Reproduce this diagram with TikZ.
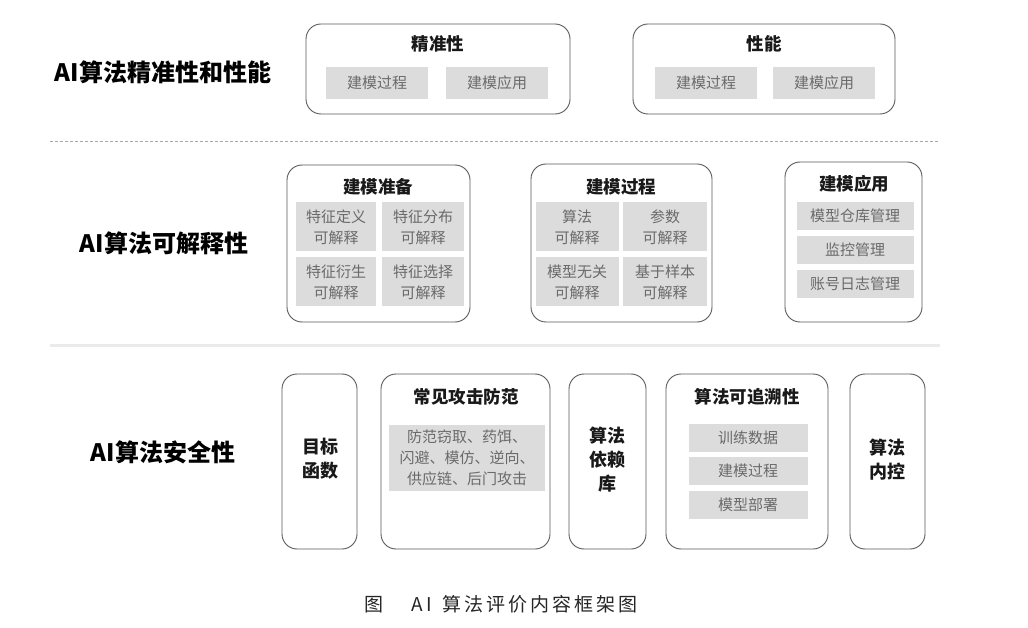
\documentclass[tikz,border=0pt]{standalone}
\usepackage{fontspec}
\setmainfont{Noto Sans CJK SC}
\definecolor{boxline}{HTML}{5A5A5A}
\definecolor{cellfill}{HTML}{DCDCDC}
\definecolor{celltext}{HTML}{6A6A6A}
\definecolor{sepline}{HTML}{EBEBEB}
\definecolor{dashline}{HTML}{A8A8A8}
\tikzset{
  outerbox/.style={draw=boxline, line width=0.9pt, rounded corners=15pt, fill=white, inner sep=0pt},
  cellbox/.style={fill=cellfill, inner sep=0pt, align=center, text=celltext, font=\fontsize{15}{21}\selectfont},
  boxtitle/.style={inner sep=0pt, font=\fontsize{17.5}{20}\selectfont\bfseries, text=black!90},
  sidelabel/.style={inner sep=0pt, font=\fontsize{24}{26}\selectfont\bfseries, text=black},
  bigtext/.style={inner sep=0pt, align=center, font=\fontsize{18}{24}\selectfont\bfseries, text=black!90},
}
\newcommand{\cs}{\hspace{3pt}}
\begin{document}
\begin{tikzpicture}[x=1pt,y=-1pt]
\useasboundingbox (0,0) rectangle (1028,628);
\fill[white] (0,0) rectangle (1028,628);

% separators
\coordinate (d1) at (50,141);
\coordinate (d2) at (940,141);
\draw[dashline, line width=0.8pt, dash pattern=on 3pt off 2pt] (d1) -- (d2);
\coordinate (s1) at (50,345);
\coordinate (s2) at (940,345);
\draw[sepline, line width=3pt] (s1) -- (s2);

% side labels
\node[sidelabel] (l1) at (163,72) {AI算法精准性和性能};
\node[sidelabel] (l2) at (164,243) {AI算法可解释性};
\node[sidelabel] (l3) at (163,452) {AI算法安全性};

% row 1
\node[outerbox, minimum width=264pt, minimum height=90pt] (acc) at (438,69) {};
\node[boxtitle] (acct) at (438,44) {精准性};
\node[cellbox, minimum width=102pt, minimum height=32pt] (acc1) at (377,83) {建模过程};
\node[cellbox, minimum width=102pt, minimum height=32pt] (acc2) at (497,83) {建模应用};

\node[outerbox, minimum width=262pt, minimum height=90pt] (perf) at (764,69) {};
\node[boxtitle] (perft) at (764,44) {性能};
\node[cellbox, minimum width=102pt, minimum height=32pt] (perf1) at (706,83) {建模过程};
\node[cellbox, minimum width=102pt, minimum height=32pt] (perf2) at (824,83) {建模应用};

% row 2
\node[outerbox, minimum width=183pt, minimum height=157pt] (prep) at (378.5,243.5) {};
\node[boxtitle] (prept) at (378,187) {建模准备};
\node[cellbox, minimum width=80pt, minimum height=49pt] (prep1) at (336,227) {特征定义\\可解释};
\node[cellbox, minimum width=82pt, minimum height=49pt] (prep2) at (423,227) {特征分布\\可解释};
\node[cellbox, minimum width=80pt, minimum height=49pt] (prep3) at (336,282) {特征衍生\\可解释};
\node[cellbox, minimum width=82pt, minimum height=49pt] (prep4) at (423,282) {特征选择\\可解释};

\node[outerbox, minimum width=181pt, minimum height=158pt] (proc) at (621.5,243) {};
\node[boxtitle] (proct) at (621,187) {建模过程};
\node[cellbox, minimum width=83pt, minimum height=49pt] (proc1) at (577,227) {算法\\可解释};
\node[cellbox, minimum width=84pt, minimum height=49pt] (proc2) at (665,227) {参数\\可解释};
\node[cellbox, minimum width=83pt, minimum height=49pt] (proc3) at (577,282) {模型无关\\可解释};
\node[cellbox, minimum width=84pt, minimum height=49pt] (proc4) at (665,282) {基于样本\\可解释};

\node[outerbox, minimum width=137pt, minimum height=160pt] (app) at (853.5,242) {};
\node[boxtitle] (appt) at (854,184) {建模应用};
\node[cellbox, minimum width=117pt, minimum height=28pt] (app1) at (855,216) {模型仓库管理};
\node[cellbox, minimum width=117pt, minimum height=28pt] (app2) at (855,250) {监控管理};
\node[cellbox, minimum width=117pt, minimum height=28pt] (app3) at (855,284) {账号日志管理};

% row 3
\node[outerbox, minimum width=75pt, minimum height=175pt] (obj) at (319.5,461.5) {};
\node[bigtext] (objt) at (320,459) {目标\\函数};

\node[outerbox, minimum width=169pt, minimum height=175pt] (atk) at (465.5,461.5) {};
\node[boxtitle] (atkt) at (466,397) {常见攻击防范};
\node[cellbox, minimum width=156pt, minimum height=66pt] (atk1) at (467,458) {防范窃取、药饵、\\闪避、模仿、逆向、\\供应链、后门攻击};

\node[outerbox, minimum width=77pt, minimum height=175pt] (lib) at (607.5,461.5) {};
\node[bigtext] (libt) at (607,460) {算法\\依赖\\库};

\node[outerbox, minimum width=162pt, minimum height=175pt] (trace) at (747,461.5) {};
\node[boxtitle] (tracet) at (747,397) {算法可追溯性};
\node[cellbox, minimum width=119pt, minimum height=28pt] (tr1) at (748,438) {训练数据};
\node[cellbox, minimum width=119pt, minimum height=28pt] (tr2) at (748,471) {建模过程};
\node[cellbox, minimum width=119pt, minimum height=28pt] (tr3) at (748,505) {模型部署};

\node[outerbox, minimum width=75pt, minimum height=175pt] (ctrl) at (887.5,461.5) {};
\node[bigtext] (ctrlt) at (887,460) {算法\\内控};

% caption
\node[inner sep=0pt, font=\fontsize{19}{22}\selectfont, text=black!85] (cap) at (501,604) {图\hspace{28pt}A\cs I\hspace{10pt}算\cs 法\cs 评\cs 价\cs 内\cs 容\cs 框\cs 架\cs 图};
\end{tikzpicture}
\end{document}
